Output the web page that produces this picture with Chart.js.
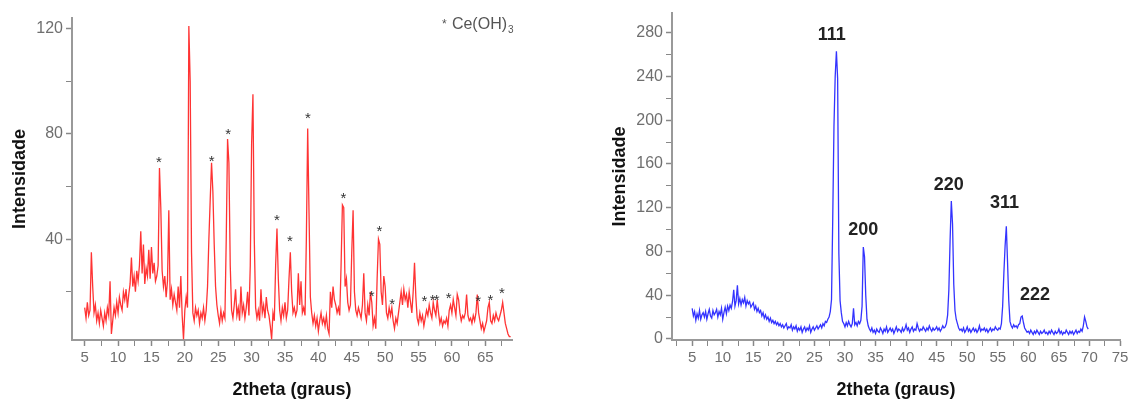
<!DOCTYPE html>
<html>
<head>
<meta charset="utf-8">
<script src="https://cdn.jsdelivr.net/npm/chart.js@4.4.1/dist/chart.umd.min.js"></script>
<style>
	body { margin: 0; background: #fff; }
	#wrap { position: relative; width: 1132px; height: 406px; overflow: hidden; }
	#difratograma-a { position: absolute; left: 0; top: 0; }
	#difratograma-b { position: absolute; left: 580px; top: 0; }
</style>
</head>
<body>
<div id="wrap">
	<canvas id="difratograma-a" width="560" height="406"></canvas>
	<canvas id="difratograma-b" width="552" height="406"></canvas>
</div>
<script>
//eixo 2theta (passo 0,2 grau)
const theta = [
	5, 5.2, 5.4, 5.6, 5.8, 6, 6.2, 6.4, 6.6, 6.8,
	7, 7.2, 7.4, 7.6, 7.8, 8, 8.2, 8.4, 8.6, 8.8,
	9, 9.2, 9.4, 9.6, 9.8, 10, 10.2, 10.4, 10.6, 10.8,
	11, 11.2, 11.4, 11.6, 11.8, 12, 12.2, 12.4, 12.6, 12.8,
	13, 13.2, 13.4, 13.6, 13.8, 14, 14.2, 14.4, 14.6, 14.8,
	15, 15.2, 15.4, 15.6, 15.8, 16, 16.2, 16.4, 16.6, 16.8,
	17, 17.2, 17.4, 17.6, 17.8, 18, 18.2, 18.4, 18.6, 18.8,
	19, 19.2, 19.4, 19.6, 19.8, 20, 20.2, 20.4, 20.6, 20.8,
	21, 21.2, 21.4, 21.6, 21.8, 22, 22.2, 22.4, 22.6, 22.8,
	23, 23.2, 23.4, 23.6, 23.8, 24, 24.2, 24.4, 24.6, 24.8,
	25, 25.2, 25.4, 25.6, 25.8, 26, 26.2, 26.4, 26.6, 26.8,
	27, 27.2, 27.4, 27.6, 27.8, 28, 28.2, 28.4, 28.6, 28.8,
	29, 29.2, 29.4, 29.6, 29.8, 30, 30.2, 30.4, 30.6, 30.8,
	31, 31.2, 31.4, 31.6, 31.8, 32, 32.2, 32.4, 32.6, 32.8,
	33, 33.2, 33.4, 33.6, 33.8, 34, 34.2, 34.4, 34.6, 34.8,
	35, 35.2, 35.4, 35.6, 35.8, 36, 36.2, 36.4, 36.6, 36.8,
	37, 37.2, 37.4, 37.6, 37.8, 38, 38.2, 38.4, 38.6, 38.8,
	39, 39.2, 39.4, 39.6, 39.8, 40, 40.2, 40.4, 40.6, 40.8,
	41, 41.2, 41.4, 41.6, 41.8, 42, 42.2, 42.4, 42.6, 42.8,
	43, 43.2, 43.4, 43.6, 43.8, 44, 44.2, 44.4, 44.6, 44.8,
	45, 45.2, 45.4, 45.6, 45.8, 46, 46.2, 46.4, 46.6, 46.8,
	47, 47.2, 47.4, 47.6, 47.8, 48, 48.2, 48.4, 48.6, 48.8,
	49, 49.2, 49.4, 49.6, 49.8, 50, 50.2, 50.4, 50.6, 50.8,
	51, 51.2, 51.4, 51.6, 51.8, 52, 52.2, 52.4, 52.6, 52.8,
	53, 53.2, 53.4, 53.6, 53.8, 54, 54.2, 54.4, 54.6, 54.8,
	55, 55.2, 55.4, 55.6, 55.8, 56, 56.2, 56.4, 56.6, 56.8,
	57, 57.2, 57.4, 57.6, 57.8, 58, 58.2, 58.4, 58.6, 58.8,
	59, 59.2, 59.4, 59.6, 59.8, 60, 60.2, 60.4, 60.6, 60.8,
	61, 61.2, 61.4, 61.6, 61.8, 62, 62.2, 62.4, 62.6, 62.8,
	63, 63.2, 63.4, 63.6, 63.8, 64, 64.2, 64.4, 64.6, 64.8,
	65, 65.2, 65.4, 65.6, 65.8, 66, 66.2, 66.4, 66.6, 66.8,
	67, 67.2, 67.4, 67.6, 67.8, 68, 68.2, 68.4, 68.6, 68.8,
	69, 69.2, 69.4, 69.6, 69.8,
];

//amostra com Ce(OH)3 (vermelho)
const intensidadeA = [
	14, 10, 16, 11, 13, 35, 22, 12, 15, 9,
	12, 8, 13, 10, 7, 12, 9, 14, 11, 24,
	4, 9, 14, 11, 16, 12, 18, 15, 13, 20,
	17, 21, 14, 19, 23, 33, 22, 26, 20, 28,
	24, 30, 43, 27, 38, 23, 29, 26, 36, 25,
	37, 27, 31, 24, 26, 30, 67, 52, 28, 22,
	26, 18, 24, 51, 17, 21, 15, 19, 16, 13,
	22, 14, 26, 11, 2, 13, 18, 14, 121, 100,
	35, 12, 9, 14, 11, 13, 8, 12, 10, 14,
	9, 13, 22, 40, 55, 69, 58, 38, 22, 15,
	11, 8, 13, 9, 12, 10, 40, 78, 69, 30,
	13, 10, 15, 21, 11, 14, 9, 22, 12, 15,
	10, 14, 20, 11, 30, 76, 95, 40, 14, 10,
	13, 9, 21, 12, 15, 10, 18, 13, 11, 7,
	2, 12, 9, 30, 44, 25, 13, 9, 14, 11,
	16, 10, 13, 25, 35, 20, 12, 14, 11, 13,
	27, 15, 24, 12, 14, 11, 40, 82, 50, 18,
	12, 8, 11, 7, 10, 5, 9, 12, 8, 10,
	7, 11, 6, 4, 20, 14, 22, 17, 15, 12,
	14, 11, 30, 53, 52, 22, 25, 16, 13, 15,
	35, 51, 20, 13, 11, 14, 12, 10, 15, 27,
	12, 9, 15, 11, 20, 16, 7, 10, 6, 25,
	40, 38, 20, 15, 26, 22, 12, 10, 14, 11,
	14, 9, 6, 10, 8, 12, 16, 20, 15, 21,
	17, 19, 14, 20, 16, 12, 20, 31, 18, 10,
	8, 12, 9, 11, 7, 10, 13, 11, 15, 12,
	10, 16, 13, 11, 17, 12, 8, 10, 7, 9,
	8, 10, 7, 13, 15, 12, 17, 14, 11, 19,
	17, 12, 9, 11, 10, 12, 19, 11, 9, 10,
	8, 11, 9, 12, 19, 12, 9, 6, 8, 5,
	7, 9, 14, 16, 9, 8, 11, 9, 12, 10,
	9, 11, 13, 16, 12, 8, 6, 4, 3, 3,
];

//amostra CeO2 (azul)
const intensidadeB = [
	28, 21, 25, 17, 23, 19, 26, 18, 22, 24,
	20, 25, 18, 23, 27, 21, 19, 26, 22, 24,
	27, 20, 25, 22, 28, 18, 24, 29, 23, 30,
	26, 31, 28, 34, 45, 30, 35, 49, 32, 37,
	31, 36, 33, 38, 30, 35, 32, 34, 29, 31,
	33, 27, 30, 25, 28, 24, 26, 21, 24, 19,
	22, 18, 20, 16, 19, 15, 17, 14, 16, 13,
	15, 12, 14, 11, 13, 10, 12, 14, 9, 11,
	10, 13, 8, 11, 9, 12, 7, 10, 8, 11,
	6, 9, 11, 7, 10, 8, 12, 6, 9, 11,
	8, 10, 12, 9, 11, 13, 10, 14, 12, 16,
	15, 18, 20, 25, 36, 110, 194, 240, 263, 238,
	78, 35, 24, 16, 14, 11, 15, 12, 16, 13,
	11, 14, 28, 13, 15, 12, 16, 14, 17, 30,
	84, 75, 40, 18, 12, 9, 7, 10, 6, 8,
	5, 9, 7, 6, 10, 8, 5, 9, 7, 11,
	6, 8, 10, 7, 9, 5, 8, 11, 7, 9,
	8, 6, 10, 7, 9, 13, 8, 10, 6, 9,
	11, 7, 9, 8, 14, 10, 7, 9, 8, 11,
	9, 7, 10, 8, 12, 9, 7, 10, 8, 9,
	11, 8, 10, 7, 9, 12, 10, 11, 14, 22,
	45, 90, 126, 105, 50, 26, 18, 14, 10, 8,
	9, 7, 10, 6, 8, 11, 7, 9, 6, 8,
	10, 7, 9, 6, 8, 12, 7, 9, 8, 10,
	7, 9, 6, 8, 10, 7, 9, 8, 11, 9,
	8, 10, 9, 14, 30, 60, 85, 103, 70, 35,
	16, 12, 10, 13, 11, 12, 10, 13, 14, 20,
	21, 15, 10, 8, 6, 7, 5, 8, 6, 4,
	7, 5, 8, 6, 4, 7, 5, 6, 8, 5,
	6, 4, 7, 5, 8, 6, 4, 7, 5, 6,
	9, 5, 7, 4, 6, 5, 8, 6, 4, 7,
	5, 7, 4, 6, 8, 5, 7, 6, 9, 7,
	12, 20, 16, 11, 9,
];

//asteriscos Ce(OH)3
const estrelaTheta = [16.1, 24.0, 26.5, 33.8, 35.75, 38.45, 43.75, 48.0, 49.15, 51.05, 55.9, 57.1, 57.7, 59.5, 63.95, 65.75, 67.5];
const estrelaAltura = [70.5, 71, 81, 48.6, 40.6, 87.2, 56.8, 19.4, 44.1, 16.6, 17.5, 18.2, 18.2, 18.8, 17.8, 18.2, 20.7];

//planos cristalinos CeO2
const planos = ["111", "200", "220", "311", "222"];
const planoTheta = [27.85, 33.0, 47.0, 56.1, 61.1];
const planoAltura = [278, 100, 141, 124, 40];

Chart.defaults.font.family = "'Liberation Sans', Arial, sans-serif";
Chart.defaults.color = "#6f6f6f";

function toPontos(ys) {
	return ys.map((v, i) => ({ x: theta[i], y: v }));
}

function eixos(opt) {
	return {
		x: {
			type: "linear",
			min: opt.xMin,
			max: opt.xMax,
			afterFit: (s) => { s.height = 66; },
			border: { color: "#999", width: 2 },
			grid: {
				drawOnChartArea: false,
				tickLength: 6,
				tickColor: "#888",
				tickWidth: (c) => (c.tick && c.tick.value % 5 === 0 ? 1.5 : 1),
			},
			ticks: {
				stepSize: 2.5,
				includeBounds: false,
				autoSkip: false,
				maxRotation: 0,
				padding: 3,
				font: { size: 15 },
				color: "#6f6f6f",
				callback: (v) => (v % 5 === 0 ? v : ""),
			},
			title: {
				display: true,
				text: "2theta (graus)",
				color: "#111",
				font: { size: 18, weight: "bold" },
				padding: { top: 0, bottom: 5 },
			},
		},
		y: {
			type: "linear",
			min: opt.yMin,
			max: opt.yMax,
			afterFit: (s) => { s.width = opt.yWidth; },
			border: { color: "#999", width: 2 },
			grid: {
				drawOnChartArea: false,
				tickLength: 6,
				tickColor: "#888",
				tickWidth: (c) => (c.tick && c.tick.value % 40 === 0 ? 1.5 : 1),
			},
			ticks: {
				stepSize: 20,
				includeBounds: false,
				autoSkip: false,
				padding: 3,
				font: { size: 16 },
				color: "#6f6f6f",
				callback: (v) => (v % 40 === 0 ? v : ""),
			},
			title: {
				display: true,
				text: "Intensidade",
				color: "#111",
				font: { size: 18, weight: "bold" },
				padding: { top: opt.titlePad, bottom: 0 },
			},
		},
	};
}

//anotacoes do grafico vermelho
const notasA = {
	id: "notasA",
	afterDatasetsDraw(chart) {
		const { ctx } = chart;
		const sx = chart.scales.x;
		const sy = chart.scales.y;
		ctx.save();
		ctx.fillStyle = "#333";
		ctx.textAlign = "center";
		ctx.textBaseline = "alphabetic";
		ctx.font = "15px 'Liberation Sans', Arial, sans-serif";
		estrelaTheta.forEach((t, i) => {
			ctx.fillText("*", sx.getPixelForValue(t), sy.getPixelForValue(estrelaAltura[i]) + 8);
		});
		// legenda * Ce(OH)3
		const px = sx.getPixelForValue(60);
		const py = sy.getPixelForValue(120);
		ctx.fillStyle = "#555";
		ctx.textAlign = "left";
		ctx.font = "12px 'Liberation Sans', Arial, sans-serif";
		ctx.fillText("*", px - 10, py - 1);
		ctx.font = "16px 'Liberation Sans', Arial, sans-serif";
		ctx.fillText("Ce(OH)", px, py);
		const w = ctx.measureText("Ce(OH)").width;
		ctx.font = "10px 'Liberation Sans', Arial, sans-serif";
		ctx.fillText("3", px + w + 1, py + 4);
		ctx.restore();
	},
};

//anotacoes do grafico azul
const notasB = {
	id: "notasB",
	afterDatasetsDraw(chart) {
		const { ctx } = chart;
		const sx = chart.scales.x;
		const sy = chart.scales.y;
		ctx.save();
		ctx.fillStyle = "#222";
		ctx.textAlign = "center";
		ctx.textBaseline = "middle";
		ctx.font = "bold 18px 'Liberation Sans', Arial, sans-serif";
		planos.forEach((p, i) => {
			ctx.fillText(p, sx.getPixelForValue(planoTheta[i]), sy.getPixelForValue(planoAltura[i]));
		});
		ctx.restore();
	},
};

//grafico Ce(OH)3
let ctxA = document.getElementById("difratograma-a").getContext("2d");
let chartA = new Chart(ctxA, {
	type: "line",
	data: {
		datasets: [
			{
				data: toPontos(intensidadeA),
				borderColor: "rgba(255, 0, 0, 0.8)",
				borderWidth: 1.3,
				pointRadius: 0,
				tension: 0,
			},
		],
	},
	options: {
		responsive: false,
		animation: false,
		layout: { padding: { left: 0, right: 48, top: 18, bottom: 0 } },
		scales: eixos({ xMin: 3.1, xMax: 69, yMin: 1.7, yMax: 124, yWidth: 72, titlePad: 9 }),
		plugins: { legend: { display: false }, tooltip: { enabled: false } },
	},
	plugins: [notasA],
});

//grafico CeO2
let ctxB = document.getElementById("difratograma-b").getContext("2d");
let chartB = new Chart(ctxB, {
	type: "line",
	data: {
		datasets: [
			{
				data: toPontos(intensidadeB),
				borderColor: "rgba(0, 0, 255, 0.8)",
				borderWidth: 1.3,
				pointRadius: 0,
				tension: 0,
			},
		],
	},
	options: {
		responsive: false,
		animation: false,
		layout: { padding: { left: 0, right: 12, top: 13, bottom: 0 } },
		scales: eixos({ xMin: 1.7, xMax: 75, yMin: -1, yMax: 298, yWidth: 92, titlePad: 29 }),
		plugins: { legend: { display: false }, tooltip: { enabled: false } },
	},
	plugins: [notasB],
});
</script>
</body>
</html>
